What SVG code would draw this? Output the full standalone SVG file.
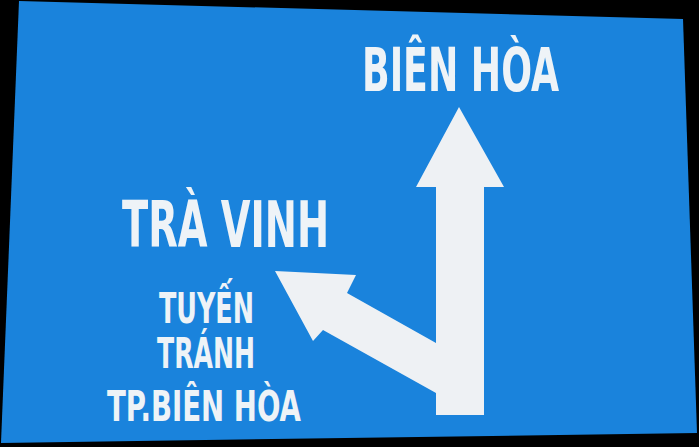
<svg xmlns="http://www.w3.org/2000/svg" width="699" height="447" viewBox="0 0 699 447">
<style>
.t{font-family:"DejaVu Sans Condensed","DejaVu Sans","Liberation Sans",sans-serif;font-weight:bold;fill:#eef3f7}
.w{fill:#eef1f4}
</style>
<rect width="699" height="447" fill="#000"/>
<g id="sign">
<polygon points="19,1 683,19 697,433 1,443" fill="#1a83dc"/>
</g>
<g id="connectors">
<polygon class="w" points="459,107 504,187 484,187 484,415 436,415 436,187 416,187"/>
<polygon class="w" points="275,271 356,275 347,293 436,343 436,393 323,330 313,341"/>
</g>
<g id="labels">
<text class="t" x="362" y="91" font-size="60" textLength="197" lengthAdjust="spacingAndGlyphs">BIÊN HÒA</text>
<text class="t" x="122" y="247" font-size="64" textLength="207" lengthAdjust="spacingAndGlyphs">TRÀ VINH</text>
<text class="t" x="159" y="323" font-size="42" textLength="95" lengthAdjust="spacingAndGlyphs">TUYẾN</text>
<text class="t" x="157" y="368" font-size="42" textLength="98" lengthAdjust="spacingAndGlyphs">TRÁNH</text>
<text class="t" x="107" y="421" font-size="42" textLength="194" lengthAdjust="spacingAndGlyphs">TP.BIÊN HÒA</text>
</g>
</svg>
